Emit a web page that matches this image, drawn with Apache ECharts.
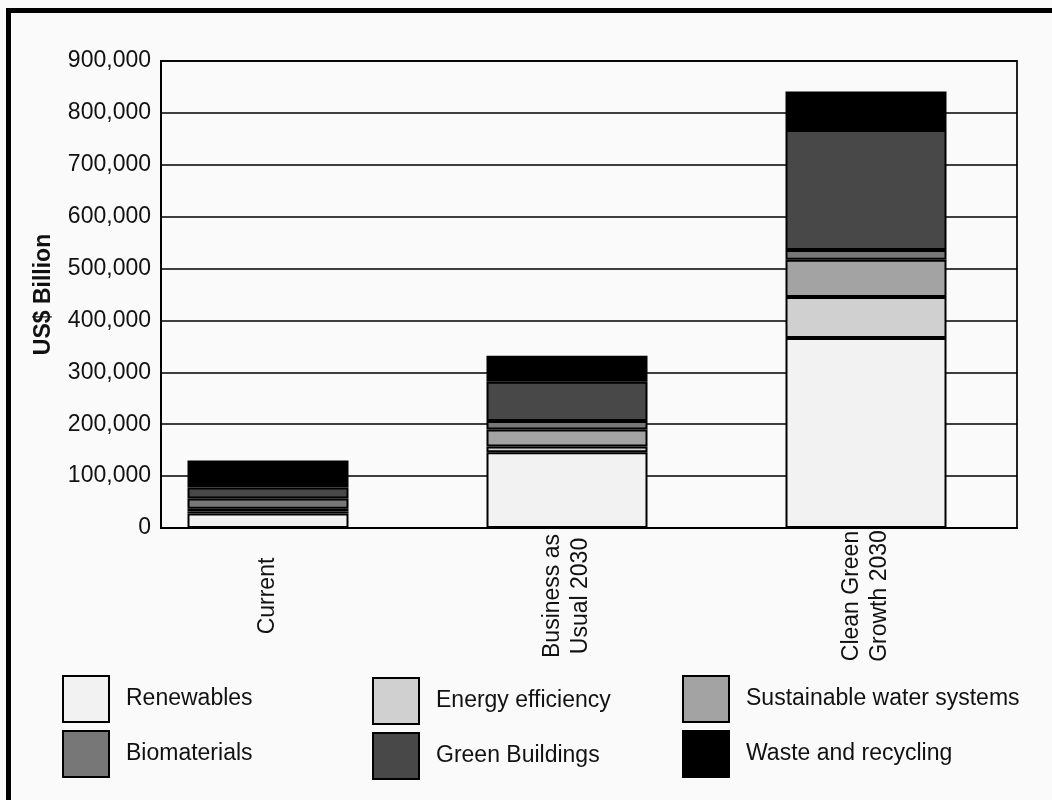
<!DOCTYPE html>
<html>
<head>
<meta charset="utf-8">
<script src="https://cdn.jsdelivr.net/npm/echarts@6/dist/echarts.min.js"></script>
<style>
  html, body { margin: 0; padding: 0; background: #fafafa; }
  #chart { width: 1052px; height: 800px; }
</style>
</head>
<body>
<div id="chart"></div>
<script>
// categories and stacked values (US$ billion)
var categories = ["Current", "Business as\nUsual 2030", "Clean Green\nGrowth 2030"];
var seriesNames = ["Renewables", "Energy efficiency", "Sustainable water systems", "Biomaterials", "Green Buildings", "Waste and recycling"];
var renewables = [28000, 146000, 366000];
var energyEfficiency = [4000, 11000, 79000];
var waterSystems = [5000, 33000, 72000];
var biomaterials = [20000, 16000, 19000];
var greenBuildings = [21000, 76000, 231000];
var wasteRecycling = [52000, 50000, 74000];
var yTicks = [0, 100000, 200000, 300000, 400000, 500000, 600000, 700000, 800000, 900000];

var font = "Liberation Sans, Arial, sans-serif";
var colors = ["#f1f2f1", "#d0d0d0", "#a3a3a3", "#777777", "#484848", "#000000"];
var values = [renewables, energyEfficiency, waterSystems, biomaterials, greenBuildings, wasteRecycling];

var chart = echarts.init(document.getElementById("chart"));

var series = seriesNames.map(function (name, i) {
  return {
    name: name,
    type: "bar",
    stack: "total",
    xAxisIndex: 1,
    yAxisIndex: 1,
    barWidth: 161,
    data: values[i],
    itemStyle: {
      color: colors[i],
      borderColor: "#000",
      borderWidth: 2
    },
    emphasis: { disabled: true }
  };
});

function legendCol(names, left, top) {
  return {
    data: names,
    orient: "vertical",
    left: left,
    top: top,
    padding: 0,
    itemWidth: 46,
    itemHeight: 46,
    itemGap: 7,
    icon: "rect",
    selectedMode: false,
    textStyle: {
      fontFamily: font,
      fontSize: 23,
      color: "#111",
      padding: [0, 0, 0, 12]
    }
  };
}

chart.setOption({
  backgroundColor: "#fafafa",
  animation: false,
  graphic: [
    { type: "rect", shape: { x: 6, y: 8, width: 1046, height: 5 }, style: { fill: "#000" } },
    { type: "rect", shape: { x: 6, y: 8, width: 5, height: 792 }, style: { fill: "#000" } }
  ],
  grid: [
    { left: 161, right: 35, top: 61, bottom: 272, show: true, borderColor: "#222", borderWidth: 2, backgroundColor: "transparent" },
    { left: 118.5, right: 36.5, top: 61, bottom: 272 }
  ],
  legend: [
    legendCol(["Renewables", "Biomaterials"], 62, 675),
    legendCol(["Energy efficiency", "Green Buildings"], 372, 677),
    legendCol(["Sustainable water systems", "Waste and recycling"], 682, 675)
  ],
  xAxis: [
    {
      gridIndex: 0,
      type: "category",
      data: categories,
      axisLine: { show: true, lineStyle: { color: "#000", width: 2 } },
      axisTick: { show: false },
      axisLabel: { show: false }
    },
    {
      gridIndex: 1,
      type: "category",
      data: categories,
      axisLine: { show: false },
      axisTick: { show: false },
      axisLabel: {
        rotate: 90,
        align: "center",
        verticalAlign: "middle",
        margin: 68,
        fontFamily: font,
        fontSize: 23,
        lineHeight: 28,
        color: "#111"
      }
    }
  ],
  yAxis: [
    {
      gridIndex: 0,
      type: "value",
      min: yTicks[0],
      max: yTicks[yTicks.length - 1],
      interval: 100000,
      name: "US$ Billion",
      nameLocation: "middle",
      nameGap: 106,
      nameTextStyle: { fontFamily: font, fontSize: 23, fontWeight: "bold", color: "#111" },
      axisLine: { show: true, lineStyle: { color: "#000", width: 2 } },
      axisTick: { show: false },
      splitLine: { show: true, lineStyle: { color: "#000", width: 1.5 } },
      axisLabel: {
        margin: 10,
        fontFamily: font,
        fontSize: 23,
        color: "#111",
        formatter: function (v) { return v.toLocaleString("en-US"); }
      }
    },
    {
      gridIndex: 1,
      type: "value",
      min: yTicks[0],
      max: yTicks[yTicks.length - 1],
      show: false,
      splitLine: { show: false }
    }
  ],
  series: series
});
</script>
</body>
</html>
